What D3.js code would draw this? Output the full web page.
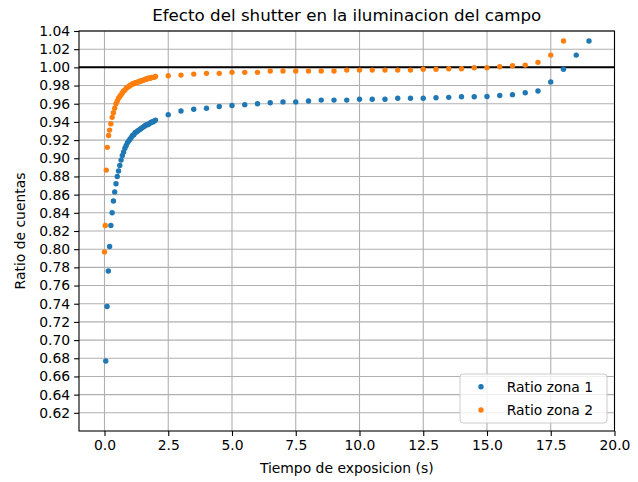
<!DOCTYPE html>
<html>
<head>
<meta charset="utf-8">
<script src="https://cdn.jsdelivr.net/npm/d3@7"></script>
<style>
    body { margin: 0; background: #fff; }
    svg { font-family: "DejaVu Sans", sans-serif; }
</style>
</head>
<body>
<svg id="chart" width="638" height="482"></svg>
<script>
var titleText = "Efecto del shutter en la iluminacion del campo";
var xLabel = "Tiempo de exposicion (s)";
var yLabel = "Ratio de cuentas";
var seriesNames = ["Ratio zona 1", "Ratio zona 2"];

var xTicks = [0, 2.5, 5, 7.5, 10, 12.5, 15, 17.5, 20];
var yTicks = [0.62, 0.64, 0.66, 0.68, 0.70, 0.72, 0.74, 0.76, 0.78, 0.80, 0.82, 0.84, 0.86, 0.88,
    0.90, 0.92, 0.94, 0.96, 0.98, 1.00, 1.02, 1.04];

// zona 1
var tiempo1 = [0.05, 0.10, 0.15, 0.20, 0.25, 0.30, 0.35, 0.40, 0.45, 0.50, 0.55, 0.60, 0.65, 0.70,
    0.75, 0.80, 0.85, 0.90, 0.95, 1.00, 1.05, 1.10, 1.15, 1.20, 1.25, 1.30, 1.35, 1.40, 1.45, 1.50,
    1.55, 1.60, 1.65, 1.70, 1.75, 1.80, 1.85, 1.90, 1.95, 2.00,
    2.5, 3.0, 3.5, 4.0, 4.5, 5.0, 5.5, 6.0, 6.5, 7.0, 7.5, 8.0, 8.5, 9.0, 9.5, 10.0, 10.5, 11.0,
    11.5, 12.0, 12.5, 13.0, 13.5, 14.0, 14.5, 15.0, 15.5, 16.0, 16.5, 17.0, 17.5, 18.0, 18.5, 19.0];
var ratio1 = [0.677, 0.737, 0.776, 0.803, 0.826, 0.840, 0.853, 0.863, 0.872, 0.880, 0.886, 0.892,
    0.898, 0.903, 0.907, 0.911, 0.914, 0.917, 0.919, 0.921, 0.923, 0.925, 0.926, 0.928, 0.929,
    0.930, 0.931, 0.932, 0.933, 0.934, 0.935, 0.936, 0.937, 0.937, 0.938, 0.939, 0.940, 0.940,
    0.941, 0.942,
    0.948, 0.952, 0.954, 0.955, 0.957, 0.958, 0.959, 0.960, 0.961, 0.962, 0.962, 0.963, 0.964,
    0.964, 0.964, 0.965, 0.965, 0.965, 0.966, 0.966, 0.966, 0.9665, 0.967, 0.9676, 0.9676, 0.968,
    0.969, 0.970, 0.972, 0.974, 0.984, 0.998, 1.0135, 1.029];

// zona 2
var tiempo2 = [0.00, 0.03, 0.07, 0.11, 0.16, 0.20, 0.25, 0.30, 0.35, 0.40, 0.45, 0.50, 0.55, 0.60,
    0.65, 0.70, 0.75, 0.80, 0.85, 0.90, 0.95, 1.00, 1.05, 1.10, 1.15, 1.20, 1.25, 1.30, 1.35, 1.40,
    1.45, 1.50, 1.55, 1.60, 1.65, 1.70, 1.75, 1.80, 1.85, 1.90, 1.95, 2.00,
    2.5, 3.0, 3.5, 4.0, 4.5, 5.0, 5.5, 6.0, 6.5, 7.0, 7.5, 8.0, 8.5, 9.0, 9.5, 10.0, 10.5, 11.0,
    11.5, 12.0, 12.5, 13.0, 13.5, 14.0, 14.5, 15.0, 15.5, 16.0, 16.5, 17.0, 17.5, 18.0];
var ratio2 = [0.797, 0.826, 0.887, 0.912, 0.925, 0.931, 0.938, 0.945, 0.950, 0.955, 0.960, 0.963,
    0.966, 0.968, 0.970, 0.972, 0.974, 0.975, 0.977, 0.978, 0.979, 0.980, 0.981, 0.982, 0.982,
    0.983, 0.983, 0.984, 0.984, 0.985, 0.985, 0.986, 0.986, 0.987, 0.987, 0.988, 0.988, 0.988,
    0.989, 0.989, 0.989, 0.990,
    0.9908, 0.9915, 0.9926, 0.9934, 0.9934, 0.9945, 0.9945, 0.9945, 0.996, 0.996, 0.996, 0.996,
    0.996, 0.996, 0.997, 0.997, 0.997, 0.997, 0.997, 0.997, 0.998, 0.998, 0.9985, 0.9985, 0.9996,
    0.9996, 1.0007, 1.0018, 1.0025, 1.0055, 1.0135, 1.029];

var colors = ["#1f77b4", "#ff7f0e"];

var svg = d3.select("#chart");
var margin = { top: 31, right: 23.5, bottom: 51, left: 79 };
var width = +svg.attr("width") - margin.left - margin.right;
var height = +svg.attr("height") - margin.top - margin.bottom;
var g = svg.append("g").attr("transform", "translate(" + margin.left + "," + margin.top + ")");

var x = d3.scaleLinear().domain([-1.0, 20.0]).range([0, width]);
var y = d3.scaleLinear().domain([0.6, 1.04]).range([height, 0]);

// grid
g.append("g")
    .selectAll("line")
    .data(xTicks)
    .join("line")
    .attr("x1", d => x(d)).attr("x2", d => x(d))
    .attr("y1", 0).attr("y2", height)
    .attr("stroke", "#b0b0b0")
    .attr("stroke-width", 1.1);

g.append("g")
    .selectAll("line")
    .data(yTicks)
    .join("line")
    .attr("x1", 0).attr("x2", width)
    .attr("y1", d => y(d)).attr("y2", d => y(d))
    .attr("stroke", "#b0b0b0")
    .attr("stroke-width", 1.1);

// axes
var xAxis = g.append("g")
    .attr("transform", "translate(0," + height + ")")
    .call(d3.axisBottom(x).tickValues(xTicks).tickFormat(d3.format(".1f")).tickSize(4.9).tickPadding(4));
var yAxis = g.append("g")
    .call(d3.axisLeft(y).tickValues(yTicks).tickFormat(d3.format(".2f")).tickSize(4.9).tickPadding(4));

[xAxis, yAxis].forEach(function(a) {
    a.select(".domain").remove();
    a.selectAll("line").attr("stroke", "#000").attr("stroke-width", 1.1);
    a.selectAll("text").attr("fill", "#000").style("font-size", "13.9px")
        .style("font-family", "DejaVu Sans");
});

// linea en 1.0
g.append("line")
    .attr("x1", 0).attr("x2", width)
    .attr("y1", y(1.0)).attr("y2", y(1.0))
    .attr("stroke", "#000")
    .attr("stroke-width", 2);

var clip = svg.append("clipPath").attr("id", "clip")
    .append("rect").attr("width", width).attr("height", height);

var pts = g.append("g").attr("clip-path", "url(#clip)");

pts.append("g")
    .selectAll("circle")
    .data(d3.zip(tiempo1, ratio1))
    .join("circle")
    .attr("cx", d => x(d[0]))
    .attr("cy", d => y(d[1]))
    .attr("r", 2.7)
    .attr("fill", colors[0]);

pts.append("g")
    .selectAll("circle")
    .data(d3.zip(tiempo2, ratio2))
    .join("circle")
    .attr("cx", d => x(d[0]))
    .attr("cy", d => y(d[1]))
    .attr("r", 2.7)
    .attr("fill", colors[1]);

// frame
g.append("rect")
    .attr("width", width).attr("height", height)
    .attr("fill", "none")
    .attr("stroke", "#000")
    .attr("stroke-width", 1.1);

// title and labels
svg.append("text")
    .attr("x", margin.left + width / 2)
    .attr("y", 21)
    .attr("text-anchor", "middle")
    .style("font-size", "16.7px")
    .text(titleText);

svg.append("text")
    .attr("x", margin.left + width / 2)
    .attr("y", 473)
    .attr("text-anchor", "middle")
    .style("font-size", "13.9px")
    .text(xLabel);

svg.append("text")
    .attr("transform", "translate(25," + (margin.top + height / 2) + ") rotate(-90)")
    .attr("text-anchor", "middle")
    .style("font-size", "13.9px")
    .text(yLabel);

// legend
var legend = svg.append("g").attr("transform", "translate(460,374)");
legend.append("rect")
    .attr("width", 147).attr("height", 49)
    .attr("rx", 3)
    .attr("fill", "#fff").attr("fill-opacity", 0.8)
    .attr("stroke", "#cccccc").attr("stroke-width", 1);

seriesNames.forEach(function(name, i) {
    legend.append("circle")
        .attr("cx", 21).attr("cy", 12.7 + i * 23.3)
        .attr("r", 2.7)
        .attr("fill", colors[i]);
    legend.append("text")
        .attr("x", 46.7).attr("y", 17.5 + i * 23.3)
        .style("font-size", "13.9px")
        .text(name);
});
</script>
</body>
</html>
